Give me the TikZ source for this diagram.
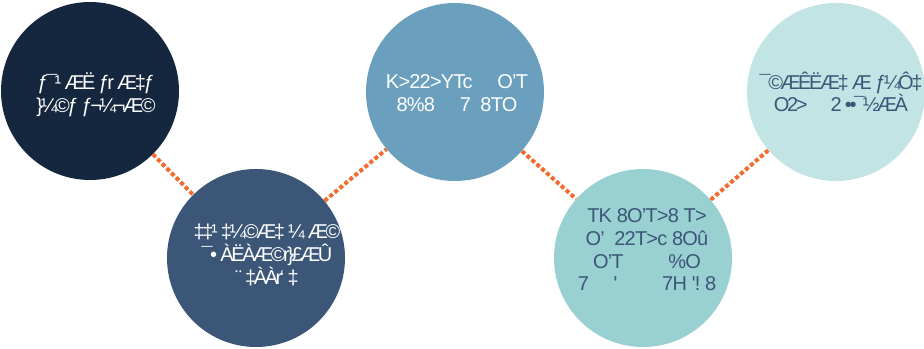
\documentclass[tikz,border=0pt]{standalone}
\usepackage{fontspec}
\setmainfont{Liberation Sans}
\newfontfamily\tightfont{Liberation Sans}[LetterSpace=-4]
\newfontfamily\squeezefont{Liberation Sans}[LetterSpace=-12]
\usetikzlibrary{positioning}

\definecolor{bubbleA}{HTML}{15263F}
\definecolor{bubbleB}{HTML}{3C5677}
\definecolor{bubbleC}{HTML}{6A9FBD}
\definecolor{bubbleD}{HTML}{99D1D3}
\definecolor{bubbleE}{HTML}{C3E4E4}
\definecolor{linkorange}{HTML}{F26A2E}

\begin{document}
\begin{tikzpicture}[
          x=0.75pt, y=-0.75pt, % 1 unit = 1 pixel of the reference
          bubble/.style={circle, minimum size=133.5pt, inner sep=0pt},
          words/.style={align=center, inner sep=0pt,
                        font=\tightfont\fontsize{15}{17}\selectfont},
          garbled/.style={words, font=\squeezefont\fontsize{15}{17}\selectfont},
          link/.style={draw=linkorange, line width=3pt, dash pattern=on 3pt off 1.9pt}
      ]
        \useasboundingbox (0,0) rectangle (924,349);
        % the five circles
        \node[bubble, fill=bubbleA] (c1) at (90,91) {};
        \node[bubble, fill=bubbleB] (c2) at (256,258) {};
        \node[bubble, fill=bubbleC] (c3) at (455,92) {};
        \node[bubble, fill=bubbleD] (c4) at (643,258) {};
        \node[bubble, fill=bubbleE] (c5) at (836,92) {};
        % texts in the circles
        \node[garbled, text=white] (t1) at (96,95)
            {ƒ¯¹ ÆË ƒr Æ‡ƒ\\\}¼©ƒ ƒ¬¼¬Æ©};
        \node[garbled, text=white] (t2) at (267,255)
            {‡‡¹ ‡¼©Æ‡ ¼ Æ©\\¯• ÀËÀÆ©r\}£ÆÛ\\¨ ‡ÀÀr‘ ‡};
        \node[words, text=white] (t3) at (457,93)
            {K>22>YTc \quad O’T\\8\%8 \quad 7 \ 8TO};
        \node[words, text=bubbleB] (t4) at (647,250)
            {TK 8O’T>8 T>\\O’ \ 22T>c 8Oû\\O’T \qquad \%O\\7 \quad ' \qquad 7H '! 8};
        \node[garbled, text=bubbleB] (t5) at (841,92)
            {¯©ÆÊËÆ‡ Æ ƒ¼Ô‡\\O2> \quad 2 ••¯½ÆÀ};
        % dotted links between the circles
        \draw[link] (c1) -- (c2);
        \draw[link] (c2) -- (c3);
        \draw[link] (c3) -- (c4);
        \draw[link] (c4) -- (c5);
      \end{tikzpicture}
\end{document}
